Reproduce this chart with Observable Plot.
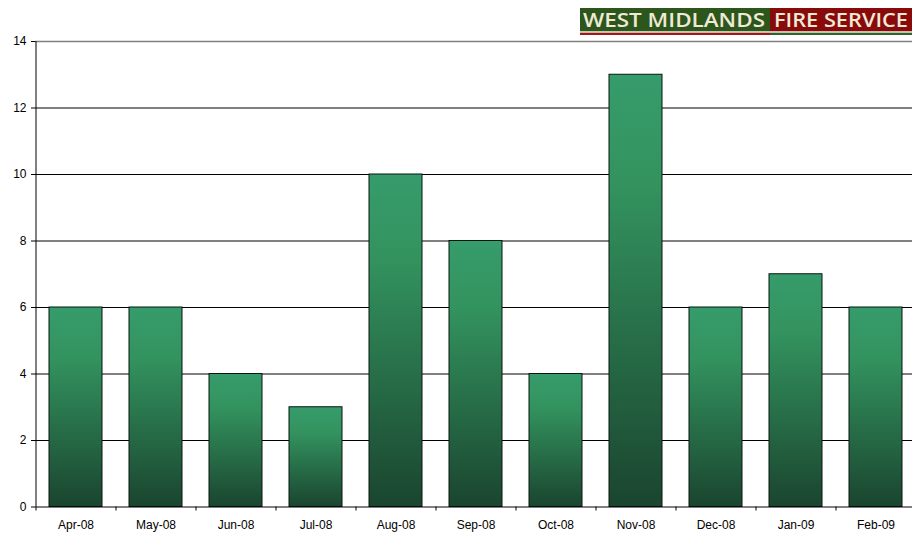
<!DOCTYPE html>
<html>
<head>
<meta charset="utf-8">
<script src="https://cdn.jsdelivr.net/npm/d3@7"></script>
<script src="https://cdn.jsdelivr.net/npm/@observablehq/plot@0.6"></script>
<style>
  html, body { margin: 0; padding: 0; background: #fff; }
  #wrap { position: relative; width: 912px; height: 533px; overflow: hidden; }
  #logo { position: absolute; left: 0; top: 0; }
  #chart { position: absolute; left: 0; top: 0; }
</style>
</head>
<body>
<div id="wrap">
  <div id="chart"></div>
  <svg id="logo" width="912" height="40">
    <rect x="580" y="8" width="190" height="23.5" fill="#2c561b"></rect>
    <rect x="770" y="8" width="142" height="23.5" fill="#880a0a"></rect>
    <rect x="580" y="31.5" width="190" height="1.2" fill="#f2eedc"></rect>
    <rect x="580" y="32.7" width="190" height="2.3" fill="#9e1a1a"></rect>
    <rect x="770" y="31.5" width="142" height="1.2" fill="#f2eedc"></rect>
    <rect x="770" y="32.7" width="142" height="2.3" fill="#2f6428"></rect>
    <text x="583" y="27" font-family="Open Sans, DejaVu Sans, sans-serif" font-size="19" font-weight="600" fill="#efe9d6" textLength="182" lengthAdjust="spacingAndGlyphs">WEST MIDLANDS</text>
    <text x="774" y="27" font-family="Open Sans, DejaVu Sans, sans-serif" font-size="19" font-weight="600" fill="#efe9d6" textLength="134" lengthAdjust="spacingAndGlyphs">FIRE SERVICE</text>
  </svg>
</div>
<script>
const months = ["Apr-08","May-08","Jun-08","Jul-08","Aug-08","Sep-08","Oct-08","Nov-08","Dec-08","Jan-09","Feb-09"];
const counts = [6, 6, 4, 3, 10, 8, 4, 13, 6, 7, 6];
const yTicks = [0, 2, 4, 6, 8, 10, 12, 14];

const data = months.map((m, i) => ({month: m, value: counts[i]}));

const W = 912, H = 533;
const xRange = [35, 915];
const halfStep = (xRange[1] - xRange[0]) / months.length / 2;

function gradientDefs() {
  const ns = "http://www.w3.org/2000/svg";
  const defs = document.createElementNS(ns, "defs");
  const lg = document.createElementNS(ns, "linearGradient");
  lg.setAttribute("id", "barGrad");
  lg.setAttribute("x1", "0"); lg.setAttribute("y1", "0");
  lg.setAttribute("x2", "0"); lg.setAttribute("y2", "1");
  [["0%", "#369c6b"], ["25%", "#33935f"], ["100%", "#1a452f"]].forEach(([o, c]) => {
    const s = document.createElementNS(ns, "stop");
    s.setAttribute("offset", o); s.setAttribute("stop-color", c);
    lg.appendChild(s);
  });
  defs.appendChild(lg);
  return defs;
}

const chart = Plot.plot({
  width: W,
  height: H,
  marginLeft: 35,
  marginRight: 0,
  marginTop: 41,
  marginBottom: 26.5,
  style: {fontFamily: "Liberation Sans, Arial, sans-serif", fontSize: "12px", color: "#000", background: "transparent"},
  x: {type: "band", domain: months, range: xRange, paddingInner: 0.3375, paddingOuter: 0.16875},
  y: {domain: [0, 14]},
  marks: [
    gradientDefs,
    Plot.ruleY(yTicks.filter(d => d > 0 && d < 14), {stroke: "#000", strokeWidth: 1}),
    Plot.ruleY([14], {stroke: "#808080", strokeWidth: 1.5}),
    Plot.barY(data, {x: "month", y: "value", fill: "url(#barGrad)", stroke: "#08170e", strokeWidth: 1}),
    Plot.ruleY([0], {stroke: "#000", strokeWidth: 1}),
    Plot.ruleX(months.slice(0, 1), {x: d => d, dx: -halfStep, y1: 0, y2: 14, stroke: "#000"}),
    Plot.ruleX(months, {x: d => d, dx: -halfStep, y1: 0, y2: 0, insetBottom: -4, stroke: "#000"}),
    Plot.axisY({ticks: yTicks, tickSize: 4, tickPadding: 5, label: null, fontSize: 12, tickFormat: d => String(d)}),
    Plot.axisX({tickSize: 0, tickPadding: 13, label: null, fontSize: 12})
  ]
});
document.getElementById("chart").appendChild(chart);
</script>
</body>
</html>
